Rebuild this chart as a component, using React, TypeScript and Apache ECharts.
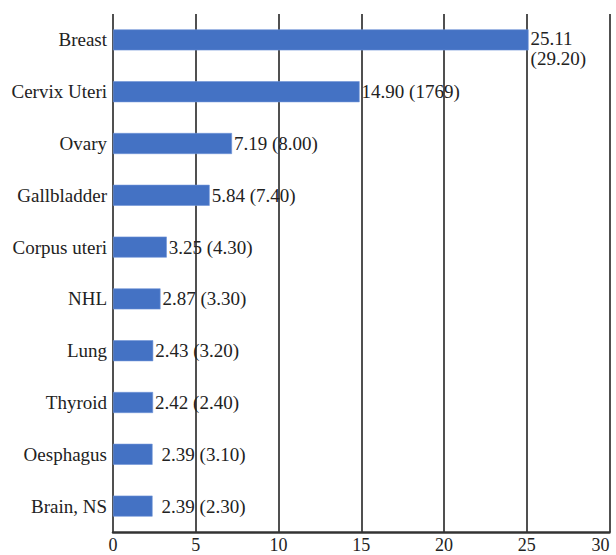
import React, { useEffect, useRef } from "react";
import * as echarts from "echarts";

const categories = [
  "Breast",
  "Cervix Uteri",
  "Ovary",
  "Gallbladder",
  "Corpus uteri",
  "NHL",
  "Lung",
  "Thyroid",
  "Oesphagus",
  "Brain, NS",
];
const values = [25.11, 14.9, 7.19, 5.84, 3.25, 2.87, 2.43, 2.42, 2.39, 2.39];
const bracketValues = ["29.20", "1769", "8.00", "7.40", "4.30", "3.30", "3.20", "2.40", "3.10", "2.30"];
const xTicks = [0, 5, 10, 15, 20, 25, 30];

const FONT = "'Liberation Serif', 'Times New Roman', serif";

export default function App() {
  const ref = useRef<HTMLDivElement>(null);

  useEffect(() => {
    if (!ref.current) return;
    const chart = echarts.init(ref.current, undefined, { renderer: "svg" });
    const data = values.map((v, i) => {
      const wrap = i === 0;
      const text = wrap
        ? `${v.toFixed(2)}\n(${bracketValues[i]})`
        : `${v.toFixed(2)} (${bracketValues[i]})`;
      return {
        value: v,
        label: {
          show: true,
          position: "right",
          distance: i >= 8 ? 9 : 2,
          formatter: text,
          offset: wrap ? [0, 9] : [0, 0],
          lineHeight: wrap ? 20 : 19,
        },
      };
    });
    chart.setOption({
      animation: false,
      backgroundColor: "#ffffff",
      grid: {
        left: 113,
        right: 6.5,
        top: 14,
        bottom: 23,
        containLabel: false,
        outerBoundsMode: "none",
      },
      xAxis: {
        type: "value",
        min: xTicks[0],
        max: xTicks[xTicks.length - 1],
        interval: 5,
        axisLine: { show: true, lineStyle: { color: "#333333", width: 2.5 } },
        axisTick: { show: false },
        axisLabel: {
          fontSize: 18,
          lineHeight: 18,
          color: "#222222",
          fontFamily: FONT,
          margin: 4,
          alignMaxLabel: "right",
        },
        splitLine: { show: true, lineStyle: { color: "#3d3d3d", width: 1.8 } },
      },
      yAxis: {
        type: "category",
        data: categories,
        inverse: true,
        axisLine: { show: false },
        axisTick: { show: false },
        axisLabel: { fontSize: 19, color: "#222222", fontFamily: FONT, margin: 6 },
        splitLine: { show: false },
      },
      series: [
        {
          type: "bar",
          data,
          barWidth: 21,
          itemStyle: { color: "#4472C4", borderColor: "#6f93d6", borderWidth: 0.6 },
          label: {
            show: true,
            color: "#222222",
            fontSize: 19,
            fontFamily: FONT,
          },
        },
      ],
    });
    return () => chart.dispose();
  }, []);

  return (
    <div
      ref={ref}
      style={{ position: "fixed", left: 0, top: 0, width: 616, height: 555, background: "#fff" }}
    />
  );
}
